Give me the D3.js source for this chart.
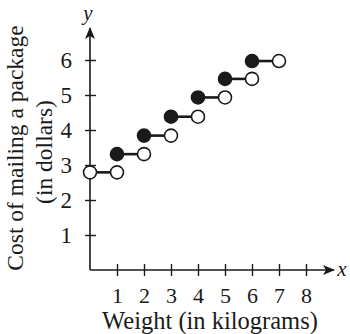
<!DOCTYPE html>
<html>
<head>
<meta charset="utf-8">
<script src="https://cdn.jsdelivr.net/npm/d3@7"></script>
<style>
  html, body { margin: 0; padding: 0; background: #fff; }
  svg { display: block; font-family: "Liberation Serif", "Times New Roman", serif; }
</style>
</head>
<body>
<svg id="chart" width="350" height="334"></svg>
<script>
// Step function: cost of mailing a package by weight interval
const intervalStart = [0, 1, 2, 3, 4, 5, 6];          // kg, left end of each step
const intervalEnd   = [1, 2, 3, 4, 5, 6, 7];          // kg, right end of each step
const stepCost      = [2.79, 3.31, 3.84, 4.38, 4.93, 5.46, 5.97]; // dollars
const leftClosed    = [false, true, true, true, true, true, true];
const xTicks = [1, 2, 3, 4, 5, 6, 7, 8];
const yTicks = [1, 2, 3, 4, 5, 6];

const svg = d3.select("#chart");
const ink = "#1a1a1a";
const serif = "Liberation Serif, serif";

const x = d3.scaleLinear().domain([0, 8]).range([90, 306]);
const y = d3.scaleLinear().domain([0, 6]).range([270, 60]);

// arrowhead
svg.append("defs").append("marker")
  .attr("id", "arrow")
  .attr("viewBox", "0 0 12 10")
  .attr("refX", 11).attr("refY", 5)
  .attr("markerWidth", 12).attr("markerHeight", 10)
  .attr("markerUnits", "userSpaceOnUse")
  .attr("orient", "auto")
  .append("path")
  .attr("d", "M0,0 L12,5 L0,10 L3,5 Z")
  .attr("fill", ink);

// axis lines with arrows
svg.append("line")
  .attr("x1", x(0)).attr("y1", y(0))
  .attr("x2", 334).attr("y2", y(0))
  .attr("stroke", ink).attr("stroke-width", 1.6)
  .attr("marker-end", "url(#arrow)");
svg.append("line")
  .attr("x1", x(0)).attr("y1", y(0))
  .attr("x2", x(0)).attr("y2", 28)
  .attr("stroke", ink).attr("stroke-width", 1.6)
  .attr("marker-end", "url(#arrow)");

// x axis ticks and labels
const gx = svg.append("g")
  .attr("transform", `translate(0,${y(0)})`)
  .call(d3.axisBottom(x).tickValues(xTicks).tickFormat(d3.format("d")).tickSize(6).tickPadding(11));
gx.select(".domain").remove();
gx.selectAll(".tick line").attr("y1", -6).attr("y2", 6).attr("stroke", ink).attr("stroke-width", 1.4);
gx.selectAll(".tick text").attr("font-size", 22).attr("fill", ink)
  .attr("font-family", serif);

// y axis ticks and labels
const gy = svg.append("g")
  .attr("transform", `translate(${x(0)},0)`)
  .call(d3.axisLeft(y).tickValues(yTicks).tickFormat(d3.format("d")).tickSize(5).tickPadding(13));
gy.select(".domain").remove();
gy.selectAll(".tick line").attr("x1", -5).attr("x2", 6).attr("stroke", ink).attr("stroke-width", 1.4);
gy.selectAll(".tick text").attr("font-size", 23).attr("fill", ink)
  .attr("font-family", serif);

// axis variable names
svg.append("text").attr("x", 88).attr("y", 20)
  .attr("text-anchor", "middle").attr("font-style", "italic").attr("font-size", 21)
  .attr("font-family", serif).attr("fill", ink).text("y");
svg.append("text").attr("x", 342).attr("y", 276)
  .attr("text-anchor", "middle").attr("font-style", "italic").attr("font-size", 21)
  .attr("font-family", serif).attr("fill", ink).text("x");

// axis titles
svg.append("text").attr("x", 210).attr("y", 329)
  .attr("text-anchor", "middle").attr("font-size", 24.5).attr("fill", ink)
  .attr("font-family", serif)
  .text("Weight (in kilograms)");
const yTitle = svg.append("text")
  .attr("transform", "translate(23,148) rotate(-90)")
  .attr("text-anchor", "middle").attr("font-size", 23.5).attr("fill", ink)
  .attr("font-family", serif);
yTitle.append("tspan").attr("x", 0).attr("dy", 0).text("Cost of mailing a package");
yTitle.append("tspan").attr("x", -4).attr("dy", 29).text("(in dollars)");

// steps
const steps = intervalStart.map((s, i) => ({
  x0: s, x1: intervalEnd[i], c: stepCost[i], closed: leftClosed[i]
}));
const r = 6.5;
const g = svg.append("g");
g.selectAll("line.step").data(steps).join("line")
  .attr("class", "step")
  .attr("x1", d => x(d.x0)).attr("x2", d => x(d.x1))
  .attr("y1", d => y(d.c)).attr("y2", d => y(d.c))
  .attr("stroke", ink).attr("stroke-width", 2.6);
g.selectAll("circle.start").data(steps).join("circle")
  .attr("class", "start")
  .attr("cx", d => x(d.x0)).attr("cy", d => y(d.c)).attr("r", r)
  .attr("fill", d => d.closed ? ink : "#fff")
  .attr("stroke", ink).attr("stroke-width", 1.6);
g.selectAll("circle.end").data(steps).join("circle")
  .attr("class", "end")
  .attr("cx", d => x(d.x1)).attr("cy", d => y(d.c)).attr("r", r)
  .attr("fill", "#fff")
  .attr("stroke", ink).attr("stroke-width", 1.6);
</script>
</body>
</html>
